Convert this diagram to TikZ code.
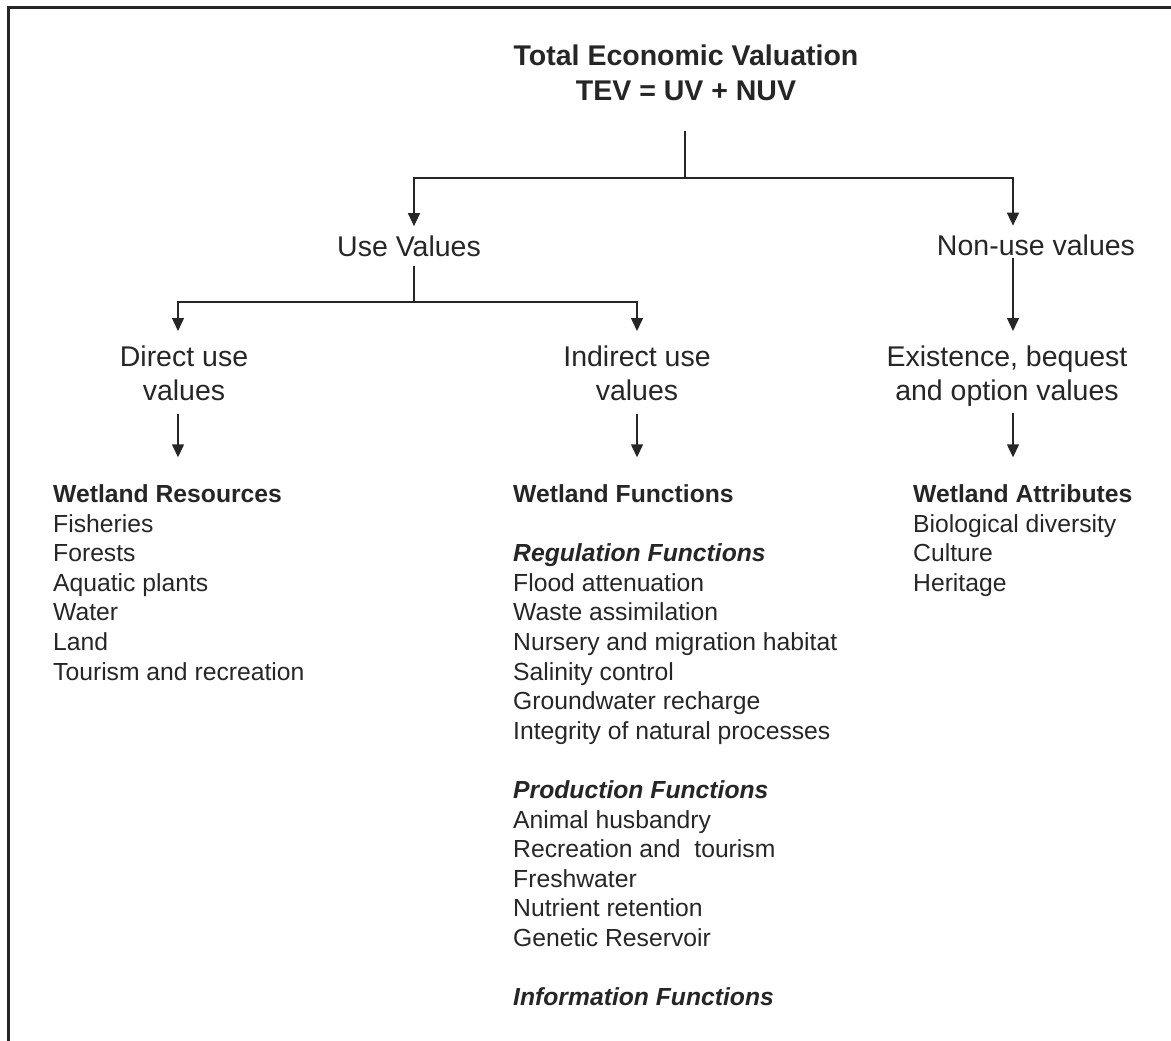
\documentclass[tikz,border=0pt]{standalone}
\usepackage{fontspec}
\setmainfont{Liberation Sans}
\usetikzlibrary{arrows.meta}
\definecolor{ink}{HTML}{262626}
\begin{document}
\begin{tikzpicture}[x=1pt,y=1pt,
  line/.style={draw=ink, line width=1.4pt},
  arr/.style={line, -{Triangle[width=12pt,length=13pt]}},
  title/.style={font=\fontsize{28.5}{35}\selectfont\bfseries, text=ink, inner sep=0pt, align=center},
  lbl/.style={font=\fontsize{28.5}{34}\selectfont, text=ink, inner sep=0pt, align=center},
  list/.style={font=\fontsize{24.7}{29.6}\selectfont, text=ink, inner sep=0pt, align=left, anchor=north west},
]
\useasboundingbox (0,0) rectangle (1171,-1041);

% open frame: left and top rules
\draw[draw=ink, line width=3pt, line join=miter] (8.3,-1041) -- (8.3,-7.3) -- (1171,-7.3);

% headings
\node[title, anchor=north] (tev) at (686,-45) {Total Economic Valuation\\TEV = UV + NUV};
\node[lbl, anchor=base] (usev) at (409,-256) {Use Values};
\node[lbl, anchor=base] (nonuse) at (1036,-255) {Non-use values};
\node[lbl, anchor=north] (direct) at (184,-345.6) {Direct use\\values};
\node[lbl, anchor=north] (indirect) at (637,-345.6) {Indirect use\\values};
\node[lbl, anchor=north] (exist) at (1007,-345.6) {Existence, bequest\\and option values};

% lists
\node[list] (res) at (53,-484.3) {\textbf{Wetland Resources}\\Fisheries\\Forests\\Aquatic plants\\Water\\Land\\Tourism and recreation};
\node[list] (fun) at (513,-484.3) {\textbf{Wetland Functions}\\[29.6pt]
  \textbf{\itshape Regulation Functions}\\Flood attenuation\\Waste assimilation\\Nursery and migration habitat\\Salinity control\\Groundwater recharge\\Integrity of natural processes\\[29.6pt]
  \textbf{\itshape Production Functions}\\Animal husbandry\\Recreation and\ \ tourism\\Freshwater\\Nutrient retention\\Genetic Reservoir\\[29.6pt]
  \textbf{\itshape Information Functions}};
\node[list] (att) at (913,-484.3) {\textbf{Wetland Attributes}\\Biological diversity\\Culture\\Heritage};

% branch points
\coordinate (hubTop) at (685,-178);
\coordinate (hubUse) at (414,-302);

% connectors
\draw[line] ([xshift=-1pt,yshift=-30pt]tev.south) -- (hubTop);
\draw[arr] (hubTop) -| ([xshift=5pt,yshift=9pt]usev.north);
\draw[arr] (hubTop) -| ([xshift=-23pt,yshift=8.5pt]nonuse.north);

\draw[line] ([xshift=5pt,yshift=-10pt]usev.south) -- (hubUse);
\draw[arr] (hubUse) -| ([xshift=-6pt,yshift=14.6pt]direct.north);
\draw[arr] (hubUse) -| ([yshift=14.6pt]indirect.north);
\draw[arr] ([xshift=-23pt,yshift=-3pt]nonuse.south) -- ([xshift=6pt,yshift=14.6pt]exist.north);

\draw[arr] ([xshift=-6pt,yshift=-13pt]direct.south) -- ([xshift=125pt,yshift=27pt]res.north west);
\draw[arr] ([yshift=-13pt]indirect.south) -- ([xshift=124pt,yshift=27pt]fun.north west);
\draw[arr] ([xshift=6pt,yshift=-6pt]exist.south) -- ([xshift=100pt,yshift=27pt]att.north west);
\end{tikzpicture}
\end{document}
